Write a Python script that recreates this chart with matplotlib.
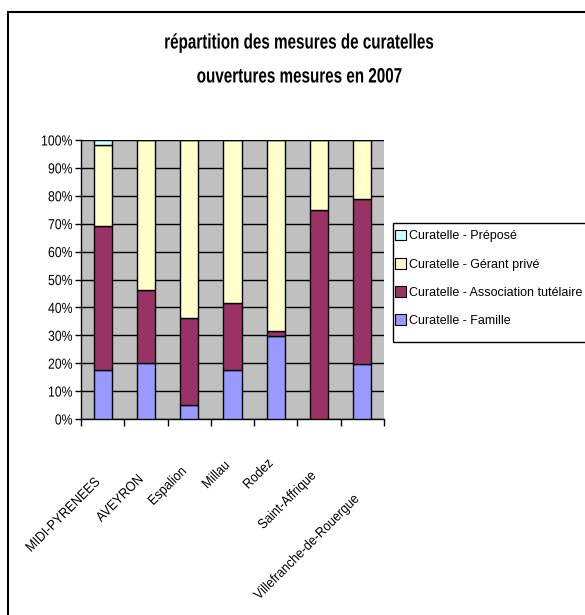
import numpy as np
import matplotlib.pyplot as plt
from matplotlib.patches import Rectangle, Patch
from matplotlib.patheffects import AbstractPathEffect
from matplotlib.transforms import Affine2D

plt.rcParams['font.family'] = ['Liberation Sans', 'DejaVu Sans']

categories = ["MIDI-PYRENEES", "AVEYRON", "Espalion", "Millau", "Rodez",
              "Saint-Affrique", "Villefranche-de-Rouergue"]

# shares in % (stacked from the bottom)
famille = [17.5, 20.2, 5.0, 17.6, 29.7, 0.0, 19.6]
association = [51.8, 26.0, 31.1, 24.1, 1.7, 74.8, 59.1]
gerant = [28.9, 53.8, 63.9, 58.3, 68.6, 25.2, 21.3]
prepose = [1.8, 0.0, 0.0, 0.0, 0.0, 0.0, 0.0]

series = [
    ("Curatelle - Famille", famille, "#9999ff"),
    ("Curatelle - Association tutélaire", association, "#993366"),
    ("Curatelle - Gérant privé", gerant, "#ffffcc"),
    ("Curatelle - Préposé", prepose, "#ccffff"),
]

# how far each rotated label hangs below the axis (pixels)
label_drop = [66, 63, 55, 49, 47, 59, 82]


class Squeeze(AbstractPathEffect):
    """Narrow the glyphs horizontally, keeping one end (or the middle) fixed."""

    def __init__(self, sx, anchor="left"):
        super().__init__()
        self.sx = sx
        self.anchor = anchor

    def draw_path(self, renderer, gc, tpath, affine, rgbFace=None):
        ext = tpath.get_extents()
        if self.anchor == "right":
            x0 = ext.x1
        elif self.anchor == "center":
            x0 = 0.5 * (ext.x0 + ext.x1)
        else:
            x0 = ext.x0
        t = Affine2D().translate(-x0, 0).scale(self.sx, 1).translate(x0, 0) + affine
        renderer.draw_path(gc, tpath, t, rgbFace)


fig = plt.figure(figsize=(5.85, 6.15), dpi=100)
ax = fig.add_axes([81 / 585, 1 - 419 / 615, 303 / 585, 279 / 615])
ax.set_facecolor("#c0c0c0")

x = np.arange(len(categories))
bottom = np.zeros(len(categories))
for name, vals, col in series:
    vals = np.array(vals)
    ax.bar(x, vals, 0.42, bottom=bottom, color=col, edgecolor="black",
           linewidth=1.0, zorder=3)
    bottom += vals

ax.set_xlim(-0.5, len(categories) - 0.5)
ax.set_ylim(0, 100)
ax.set_yticks(np.arange(0, 101, 10))
ax.set_yticklabels([f"{v}%" for v in range(0, 101, 10)], fontsize=10.5)
ax.yaxis.grid(True, color="black", linewidth=1.0, zorder=1)
ax.set_axisbelow(True)

# category boundaries carry the ticks, labels sit under the bars
ax.set_xticks(np.arange(len(categories) + 1) - 0.5)
ax.set_xticklabels([])
ax.tick_params(axis="x", direction="out", length=5, width=1)
ax.tick_params(axis="y", direction="out", length=4, width=1, pad=2)

for s in ["top", "right"]:
    ax.spines[s].set_visible(False)
for s in ["left", "bottom"]:
    ax.spines[s].set_linewidth(1.0)

for i, (cat, drop) in enumerate(zip(categories, label_drop)):
    ax.annotate(cat, xy=(i, 0), xycoords=("data", "axes fraction"),
                xytext=(0, -drop * 0.72), textcoords="offset points",
                rotation=45, rotation_mode="anchor", ha="right", va="bottom",
                fontsize=10, path_effects=[Squeeze(0.9, "right")])

for ypix, line in [(43, "répartition des mesures de curatelles"),
                   (77, "ouvertures mesures en 2007")]:
    fig.text(300 / 585, 1 - ypix / 615, line, ha="center", va="center",
             fontsize=15, fontweight="bold",
             path_effects=[Squeeze(0.73, "center")])

# legend entries, framed separately so the box can run to the edge
handles = [Patch(facecolor=col, edgecolor="black", linewidth=0.8, label=name)
           for name, vals, col in reversed(series)]
fig.legend(handles=handles, loc="upper left",
           bbox_to_anchor=(395 / 585, 1 - 230 / 615),
           fontsize=9, frameon=False, borderpad=0,
           labelspacing=1.25, handlelength=0.9, handleheight=0.9,
           handletextpad=0.25, borderaxespad=0)
fig.patches.append(Rectangle((393 / 585, 1 - 342 / 615), 0.5, 119 / 615,
                             transform=fig.transFigure, fill=False,
                             edgecolor="black", linewidth=1.0))

for lbl in ax.get_yticklabels():
    lbl.set_path_effects([Squeeze(0.84, "right")])

# outer chart frame
fig.patches.append(Rectangle((8 / 585, -0.1), 1.0, 1 - 12 / 615 + 0.1,
                             transform=fig.transFigure, fill=False,
                             edgecolor="black", linewidth=1.5))

fig.savefig("out.png", dpi=100)
